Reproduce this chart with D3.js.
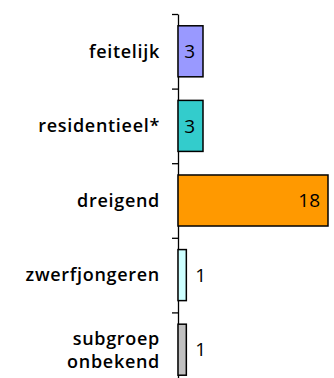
<!DOCTYPE html>
<html>
<head>
<meta charset="utf-8">
<script src="https://cdn.jsdelivr.net/npm/d3@7"></script>
<style>
  body { margin: 0; background: #fff; }
  svg { display: block; }
  .cat { font-family: "Open Sans", sans-serif; font-weight: 600; font-size: 18px; letter-spacing: 0.7px; fill: #000; }
  .val { font-family: "Open Sans", sans-serif; font-size: 19px; fill: #000; }
</style>
</head>
<body>
<div id="chart"></div>
<script>
const categories = ['feitelijk', 'residentieel*', 'dreigend', 'zwerfjongeren', 'subgroep onbekend']
const labelLines = [['feitelijk'], ['residentieel*'], ['dreigend'], ['zwerfjongeren'], ['subgroep', 'onbekend']]
const values = [3, 3, 18, 1, 1]
const colors = ['#9999ff', '#33cccc', '#ff9900', '#ccffff', '#c0c0c0']

const width = 334
const height = 378

let svg = d3.select('#chart')
    .append('svg')
    .attr('width', width)
    .attr('height', height)

let x = d3.scaleLinear()
    .domain([0, 18])
    .range([178, 328])

let y = d3.scaleBand()
    .domain(categories)
    .range([14, 387])
    .paddingInner(0.316)
    .paddingOuter(0.158)

// tick marks sit between the categories
let edges = d3.scaleLinear()
    .domain([0, categories.length])
    .range(y.range())

svg.append('g')
    .attr('transform', `translate(${x(0)},0)`)
    .call(d3.axisLeft(edges)
        .tickValues(d3.range(categories.length + 1))
        .tickFormat('')
        .tickSize(6)
        .tickSizeOuter(0))
    .call(g => g.selectAll('line, path').attr('stroke', '#000').attr('stroke-width', 1.3))

let bar = svg.selectAll('.bar')
    .data(categories)
    .enter().append('g')
    .attr('class', 'bar')

bar.append('rect')
    .attr('x', x(0))
    .attr('y', (d) => y(d))
    .attr('width', (d, i) => x(values[i]) - x(0))
    .attr('height', y.bandwidth())
    .attr('fill', (d, i) => colors[i])
    .attr('stroke', '#000')
    .attr('stroke-width', 1.5)

bar.append('text')
    .attr('class', 'val')
    .attr('x', (d, i) => values[i] >= 3 ? x(values[i]) - 8 : x(values[i]) + 9)
    .attr('y', (d) => y(d) + y.bandwidth() / 2)
    .attr('dy', '0.35em')
    .attr('text-anchor', (d, i) => values[i] >= 3 ? 'end' : 'start')
    .text((d, i) => values[i])

let lineH = 23
svg.selectAll('.cat')
    .data(categories)
    .enter().append('text')
    .attr('class', 'cat')
    .attr('text-anchor', 'end')
    .attr('x', 160)
    .attr('y', (d) => y(d) + y.bandwidth() / 2)
    .each(function (d, i) {
        let lines = labelLines[i]
        let t = d3.select(this)
        lines.forEach((s, j) => {
            t.append('tspan')
                .attr('x', 160)
                .attr('dy', j === 0 ? `${0.35 - (lines.length - 1) * lineH / 2 / 18}em` : `${lineH}px`)
                .text(s)
        })
    })
</script>
</body>
</html>
